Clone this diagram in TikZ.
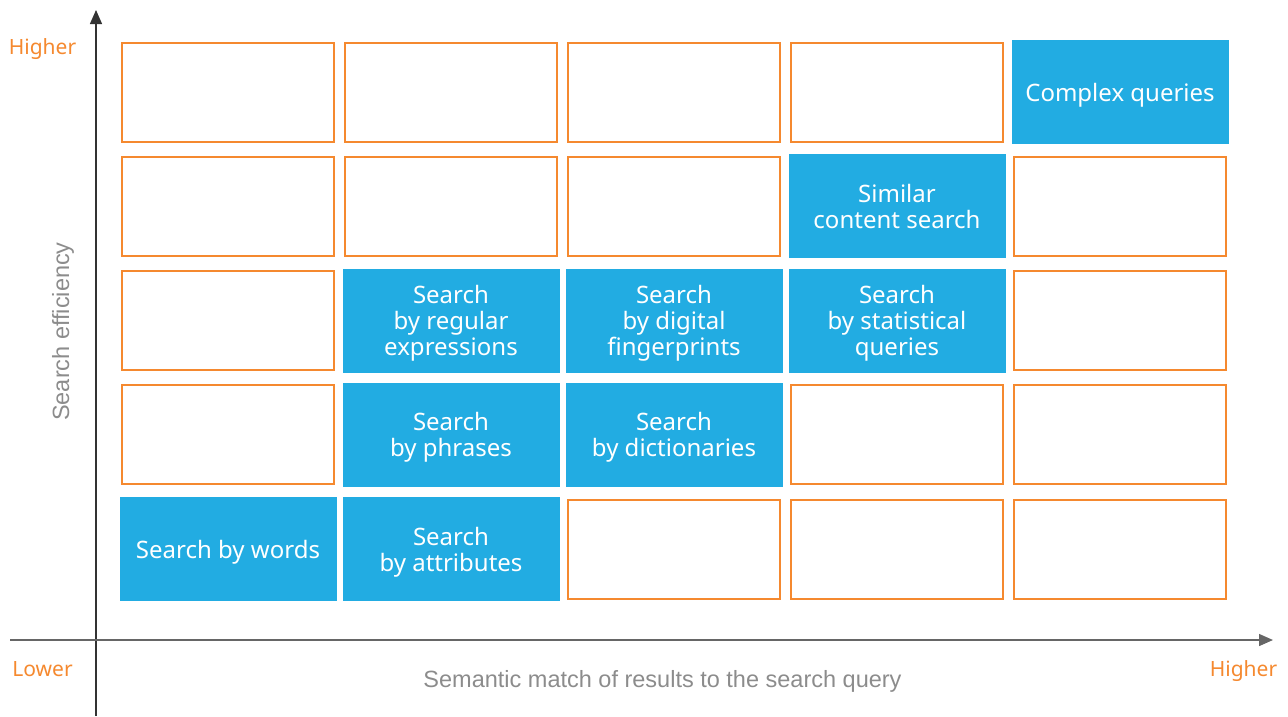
\documentclass[tikz,border=0pt]{standalone}
\usepackage{fontspec}
\setmainfont{Noto Sans}
\newfontfamily\axisfont{Liberation Sans}
\usetikzlibrary{arrows.meta}
\definecolor{cellblue}{HTML}{22ACE2}
\definecolor{cellorange}{HTML}{F5892F}
\definecolor{labelgray}{HTML}{8C8C8C}
\newsavebox\cellbox
\newcommand{\celltext}[1]{\sbox\cellbox{\begin{tabular}{@{}c@{}}#1\end{tabular}}\raisebox{-4pt}[\ht\cellbox][\dp\cellbox]{\usebox\cellbox}}
\tikzset{
  emptycell/.style={draw=cellorange, line width=2pt, fill=white, minimum width=212pt, minimum height=99pt, inner sep=0pt, outer sep=0pt},
  fullcell/.style={fill=cellblue, draw=none, minimum width=217pt, minimum height=104pt, inner sep=0pt, outer sep=0pt, text=white, font=\fontsize{24}{26}\selectfont},
  endlabel/.style={text=cellorange, font=\fontsize{21}{24}\selectfont, inner sep=0pt, anchor=base},
  axislabel/.style={text=labelgray, font=\axisfont\fontsize{23.5}{26}\selectfont, inner sep=0pt, anchor=base},
  axisline/.style={line width=1.4pt, -{Triangle[length=14pt,width=12pt]}}
}
\begin{document}
\begin{tikzpicture}[x=1pt,y=-1pt]
\useasboundingbox (0,0) rectangle (1288,716);
% row 1
\node[emptycell] (r1c1) at (228,92) {};
\node[emptycell] (r1c2) at (451,92) {};
\node[emptycell] (r1c3) at (674,92) {};
\node[emptycell] (r1c4) at (897,92) {};
\node[fullcell]  (r1c5) at (1120,92) {\celltext{Complex queries}};
% row 2
\node[emptycell] (r2c1) at (228,206.25) {};
\node[emptycell] (r2c2) at (451,206.25) {};
\node[emptycell] (r2c3) at (674,206.25) {};
\node[fullcell]  (r2c4) at (897,206.25) {\celltext{Similar\\content search}};
\node[emptycell] (r2c5) at (1120,206.25) {};
% row 3
\node[emptycell] (r3c1) at (228,320.5) {};
\node[fullcell]  (r3c2) at (451,320.5) {\celltext{Search\\by regular\\expressions}};
\node[fullcell]  (r3c3) at (674,320.5) {\celltext{Search\\by digital\\fingerprints}};
\node[fullcell]  (r3c4) at (897,320.5) {\celltext{Search\\by statistical\\queries}};
\node[emptycell] (r3c5) at (1120,320.5) {};
% row 4
\node[emptycell] (r4c1) at (228,434.75) {};
\node[fullcell]  (r4c2) at (451,434.75) {\celltext{Search\\by phrases}};
\node[fullcell]  (r4c3) at (674,434.75) {\celltext{Search\\by dictionaries}};
\node[emptycell] (r4c4) at (897,434.75) {};
\node[emptycell] (r4c5) at (1120,434.75) {};
% row 5
\node[fullcell]  (r5c1) at (228,549) {\celltext{Search by words}};
\node[fullcell]  (r5c2) at (451,549) {\celltext{Search\\by attributes}};
\node[emptycell] (r5c3) at (674,549) {};
\node[emptycell] (r5c4) at (897,549) {};
\node[emptycell] (r5c5) at (1120,549) {};
% axes
\coordinate (ybot) at (96,716);
\coordinate (ytop) at (96,10);
\coordinate (xleft) at (10,640);
\coordinate (xright) at (1273,640);
\draw[axisline, draw=black!80, fill=black!85] (ybot) -- (ytop);
\draw[axisline, draw=black!60, fill=black!85] (xleft) -- (xright);
% labels
\node[endlabel] (yhigh) at (42.5,54) {Higher};
\node[endlabel] (xlow) at (42.5,676) {Lower};
\node[endlabel] (xhigh) at (1243.5,676) {Higher};
\node[axislabel, rotate=90] (ytitle) at (69,331.5) {Search efficiency};
\node[axislabel] (xtitle) at (662.5,687) {Semantic match of results to the search query};
\end{tikzpicture}
\end{document}
